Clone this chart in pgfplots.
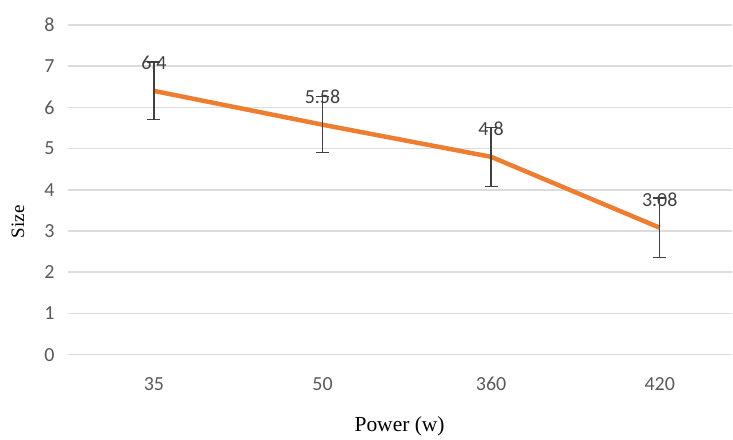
\documentclass[border=0pt]{standalone}
\usepackage{pgfplots}
\pgfplotsset{compat=1.18}
\usepackage{pgfplotstable}
\usepackage{fontspec}
\setmainfont{Liberation Serif}
\newfontfamily\calib{Carlito}
\definecolor{xlorange}{HTML}{ED7D31}
\definecolor{gridgray}{HTML}{DCDCDC}
\definecolor{ticktext}{HTML}{595959}
\definecolor{errgray}{HTML}{404040}

\pgfplotstableread{
x y e lbl
0 6.40 0.70 6.4
1 5.58 0.68 5.58
2 4.80 0.72 4.8
3 3.08 0.72 3.08
}\sizedata

\begin{document}
\begin{tikzpicture}
\path (0pt,0pt) rectangle (733pt,439pt);
\begin{axis}[
  at={(68pt,84pt)}, anchor=south west,
  width=665pt, height=330pt,
  scale only axis,
  axis line style={draw=none},
  tick style={draw=none},
  xmin=-0.51, xmax=3.43,
  ymin=0, ymax=8,
  ytick={0,1,...,8},
  xtick={0,1,2,3},
  xticklabels={35,50,360,420},
  ymajorgrids,
  grid style={gridgray, line width=1.5pt},
  major tick length=0pt,
  /pgf/number format/assume math mode=true,
  tick label style={font=\calib\fontsize{20}{24}\selectfont, text=ticktext},
  yticklabel style={xshift=-10pt},
  xticklabel style={yshift=-19pt},
  clip=false,
]
\addplot[
  xlorange, line width=4.5pt,
  error bars/.cd, y dir=both, y explicit,
  error bar style={errgray, line width=1.3pt},
  error mark options={errgray, line width=1.3pt, mark size=6.5pt, rotate=90},
] table[x=x, y=y, y error=e] {\sizedata};
\addplot[
  draw=none,
  point meta=explicit symbolic,
  nodes near coords,
  nodes near coords style={font=\calib\fontsize{20}{24}\selectfont, text=errgray, anchor=south, yshift=18pt},
] table[x=x, y=y, meta=lbl] {\sizedata};
\end{axis}
\node[rotate=90, font=\fontsize{19}{22}\selectfont] at (18pt,217pt) {Size};
\node[font=\fontsize{21.5}{25}\selectfont] at (400pt,12pt) {Power (w)};
\end{tikzpicture}
\end{document}
